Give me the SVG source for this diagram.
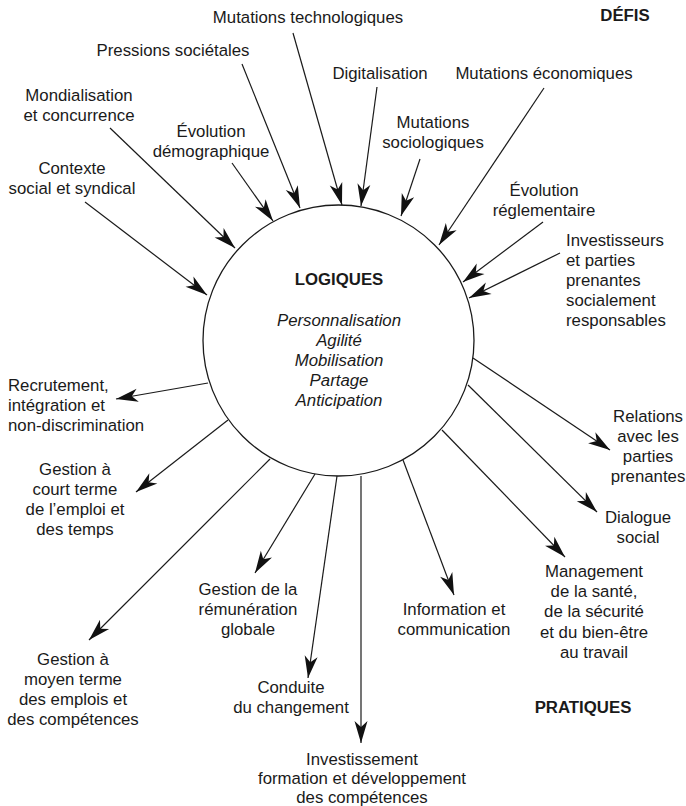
<svg xmlns="http://www.w3.org/2000/svg" width="686" height="806" viewBox="0 0 686 806">
<style>
text{font-family:"Liberation Sans",Arial,sans-serif;font-size:16.8px;fill:#1a1a1a}
.c{text-anchor:middle}
.b{font-weight:bold}
.i{font-style:italic}
.ln{stroke:#1a1a1a;stroke-width:1.2;fill:none;marker-end:url(#ah)}
</style>
<defs>
<marker id="ah" markerUnits="userSpaceOnUse" viewBox="-23 -7 24 14" refX="0" refY="0" markerWidth="24" markerHeight="14" orient="auto">
<path d="M0,0 L-22,-6.5 L-16,0 L-22,6.5 Z" fill="#111"/>
</marker>
</defs>
<rect width="686" height="806" fill="#fff"/>
<g id="logiques">
<circle cx="338.5" cy="340.5" r="135.5" fill="none" stroke="#1a1a1a" stroke-width="1.3"/>
<text class="c b" x="339" y="285">LOGIQUES</text>
<text class="c i" x="339" y="326">Personnalisation</text>
<text class="c i" x="339" y="346">Agilité</text>
<text class="c i" x="339" y="366">Mobilisation</text>
<text class="c i" x="339" y="386">Partage</text>
<text class="c i" x="339" y="406">Anticipation</text>
</g>
<g id="titles">
<text class="c b" x="625" y="21">DÉFIS</text>
<text class="c b" x="583" y="713">PRATIQUES</text>
</g>
<g id="defis">
<g id="d-techno"><text class="c" x="308" y="23">Mutations technologiques</text></g>
<g id="d-pressions"><text class="c" x="173" y="56">Pressions sociétales</text></g>
<g id="d-digital"><text class="c" x="380" y="79">Digitalisation</text></g>
<g id="d-eco"><text class="c" x="544" y="79">Mutations économiques</text></g>
<g id="d-mondial"><text class="c" x="79" y="101">Mondialisation</text><text class="c" x="79" y="121">et concurrence</text></g>
<g id="d-socio"><text class="c" x="433" y="128">Mutations</text><text class="c" x="433" y="148">sociologiques</text></g>
<g id="d-demo"><text class="c" x="211" y="137">Évolution</text><text class="c" x="211" y="157">démographique</text></g>
<g id="d-contexte"><text class="c" x="72" y="174">Contexte</text><text class="c" x="72" y="194">social et syndical</text></g>
<g id="d-regl"><text class="c" x="544" y="196">Évolution</text><text class="c" x="544" y="216">réglementaire</text></g>
<g id="d-invest"><text x="566" y="246">Investisseurs</text><text x="566" y="266">et parties</text><text x="566" y="286">prenantes</text><text x="566" y="306">socialement</text><text x="566" y="326">responsables</text></g>
</g>
<g id="pratiques">
<g id="p-recrut"><text x="8" y="391">Recrutement,</text><text x="8" y="411">intégration et</text><text x="8" y="431">non-discrimination</text></g>
<g id="p-court"><text class="c" x="75" y="475">Gestion à</text><text class="c" x="75" y="495">court terme</text><text class="c" x="75" y="515">de l’emploi et</text><text class="c" x="75" y="535">des temps</text></g>
<g id="p-remun"><text class="c" x="248" y="595">Gestion de la</text><text class="c" x="248" y="615">rémunération</text><text class="c" x="248" y="635">globale</text></g>
<g id="p-info"><text class="c" x="454" y="615">Information et</text><text class="c" x="454" y="635">communication</text></g>
<g id="p-relations"><text class="c" x="648" y="422">Relations</text><text class="c" x="648" y="442">avec les</text><text class="c" x="648" y="462">parties</text><text class="c" x="648" y="482">prenantes</text></g>
<g id="p-dialogue"><text class="c" x="638" y="523">Dialogue</text><text class="c" x="638" y="543">social</text></g>
<g id="p-sante"><text class="c" x="594" y="577">Management</text><text class="c" x="594" y="597">de la santé,</text><text class="c" x="594" y="617">de la sécurité</text><text class="c" x="594" y="638">et du bien-être</text><text class="c" x="594" y="658">au travail</text></g>
<g id="p-moyen"><text class="c" x="73" y="665">Gestion à</text><text class="c" x="73" y="685">moyen terme</text><text class="c" x="73" y="705">des emplois et</text><text class="c" x="73" y="725">des compétences</text></g>
<g id="p-conduite"><text class="c" x="291" y="693">Conduite</text><text class="c" x="291" y="713">du changement</text></g>
<g id="p-formation"><text class="c" x="362" y="765">Investissement</text><text class="c" x="362" y="784">formation et développement</text><text class="c" x="362" y="803">des compétences</text></g>
</g>
<g id="connectors">
<line class="ln" x1="85" y1="202" x2="207" y2="295"/>
<line class="ln" x1="110" y1="128" x2="235" y2="248"/>
<line class="ln" x1="232" y1="163" x2="273" y2="221"/>
<line class="ln" x1="242" y1="64" x2="300" y2="208"/>
<line class="ln" x1="293" y1="33" x2="342" y2="205"/>
<line class="ln" x1="377" y1="87" x2="361" y2="206"/>
<line class="ln" x1="420" y1="159" x2="401" y2="216"/>
<line class="ln" x1="544" y1="88" x2="439" y2="245"/>
<line class="ln" x1="543" y1="222" x2="463" y2="282"/>
<line class="ln" x1="560" y1="253" x2="469" y2="298"/>
<line class="ln" x1="208" y1="383" x2="116" y2="399"/>
<line class="ln" x1="228" y1="420" x2="136" y2="492"/>
<line class="ln" x1="270" y1="459" x2="89" y2="640"/>
<line class="ln" x1="315" y1="474" x2="255" y2="573"/>
<line class="ln" x1="337" y1="476" x2="308" y2="678"/>
<line class="ln" x1="361" y1="476" x2="361" y2="743"/>
<line class="ln" x1="403" y1="460" x2="454" y2="595"/>
<line class="ln" x1="442" y1="430" x2="565" y2="557"/>
<line class="ln" x1="468" y1="385" x2="597" y2="512"/>
<line class="ln" x1="473" y1="358" x2="610" y2="450"/>
</g>
</svg>
